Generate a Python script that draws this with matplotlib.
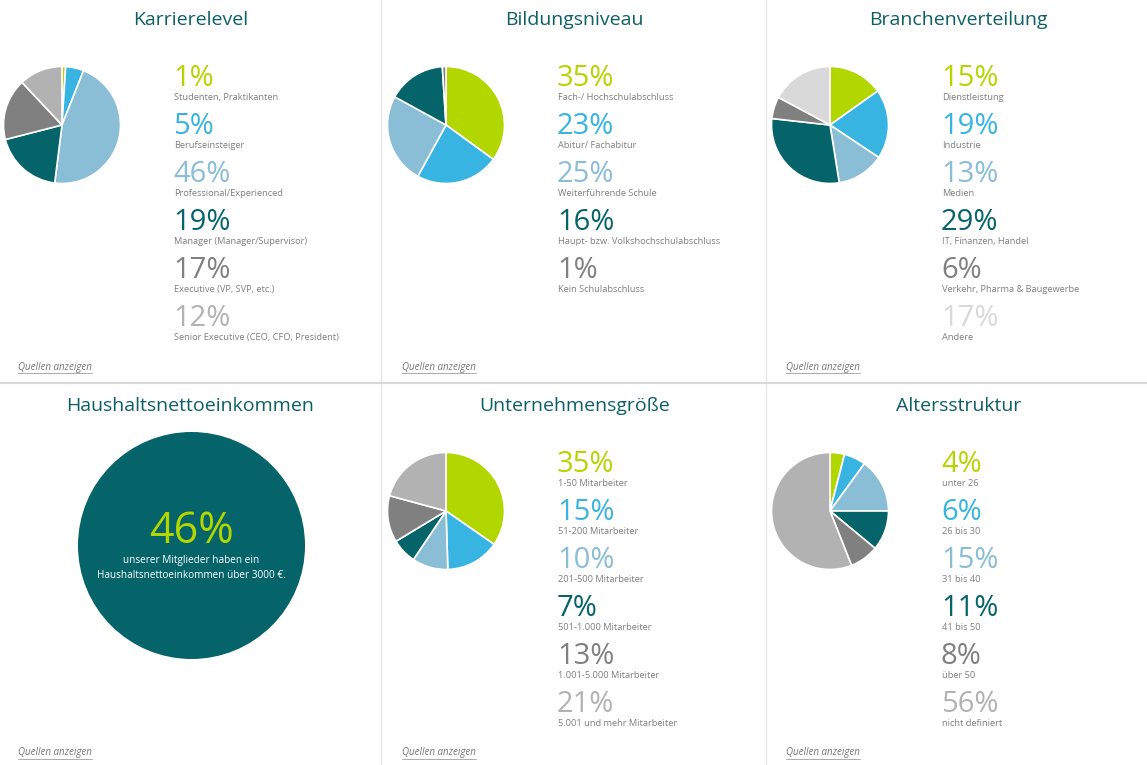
import matplotlib
matplotlib.use('Agg')
import matplotlib.pyplot as plt
from matplotlib.patches import Circle

plt.rcParams['font.family'] = ['Open Sans', 'DejaVu Sans']

W, H = 1147, 765

LIME = '#b2d600'
BLUE = '#38b4e3'
LIGHTBLUE = '#8abdd6'
TEAL = '#05646a'
GRAY = '#808080'
LIGHTGRAY = '#b2b2b2'
PALEGRAY = '#d9d9d9'
TITLE = '#0d5f66'
LABEL = '#7f7f7f'

# data
karriere_values = [1, 5, 46, 19, 17, 12]
karriere_labels = ['Studenten, Praktikanten', 'Berufseinsteiger', 'Professional/Experienced',
                   'Manager (Manager/Supervisor)', 'Executive (VP, SVP, etc.)',
                   'Senior Executive (CEO, CFO, President)']

bildung_values = [35, 23, 25, 16, 1]
bildung_labels = ['Fach-/ Hochschulabschluss', 'Abitur/ Fachabitur', 'Weiterführende Schule',
                  'Haupt- bzw. Volkshochschulabschluss', 'Kein Schulabschluss']

branchen_values = [15, 19, 13, 29, 6, 17]
branchen_labels = ['Dienstleistung', 'Industrie', 'Medien', 'IT, Finanzen, Handel',
                   'Verkehr, Pharma & Baugewerbe', 'Andere']

firma_values = [35, 15, 10, 7, 13, 21]
firma_labels = ['1-50 Mitarbeiter', '51-200 Mitarbeiter', '201-500 Mitarbeiter',
                '501-1.000 Mitarbeiter', '1.001-5.000 Mitarbeiter', '5.001 und mehr Mitarbeiter']

alter_values = [4, 6, 15, 11, 8, 56]
alter_labels = ['unter 26', '26 bis 30', '31 bis 40', '41 bis 50', 'über 50', 'nicht definiert']

einkommen_value = 46

colors = [LIME, BLUE, LIGHTBLUE, TEAL, GRAY, LIGHTGRAY]
colors_branchen = [LIME, BLUE, LIGHTBLUE, TEAL, GRAY, PALEGRAY]

fig = plt.figure(figsize=(W / 100, H / 100), dpi=100, facecolor='white')

# overlay in pixel coords for text and separators
bg = fig.add_axes([0, 0, 1, 1])
bg.set_xlim(0, W)
bg.set_ylim(H, 0)
bg.axis('off')

bg.plot([381, 381], [0, H], color='#e6e6e6', lw=1)
bg.plot([765.5, 765.5], [0, H], color='#e6e6e6', lw=1)
bg.plot([0, W], [383, 383], color='#d9d9d9', lw=1.5)


def quellen(x, y):
    t = bg.text(x, y, 'Quellen anzeigen', fontsize=7, style='italic', color='#777777',
                ha='left', va='center')
    bb = t.get_window_extent(fig.canvas.get_renderer())
    bg.plot([x, x + bb.width], [y + 5.5, y + 5.5], color='#8c8c8c', lw=0.5)


def panel(x0, y0, title, values, labels, cols):
    cx, cy, r = x0 + 62, y0 + 125, 58.5
    ax = fig.add_axes([(cx - r) / W, 1 - (cy + r) / H, 2 * r / W, 2 * r / H])
    ax.pie(values, colors=cols, startangle=90, counterclock=False, radius=1,
           wedgeprops={'edgecolor': 'white', 'linewidth': 1.2})
    ax.set_xlim(-1, 1)
    ax.set_ylim(-1, 1)
    bg.text(x0 + 190.5, y0 + 20, title, fontsize=14, color=TITLE, ha='center', va='center')
    for i, (v, lab) in enumerate(zip(values, labels)):
        y = y0 + 78 + 48 * i
        bg.text(x0 + 173, y, f'{v}%', fontsize=21, color=cols[i], ha='left', va='center')
        bg.text(x0 + 174, y + 19, lab, fontsize=6.7, color=LABEL, ha='left', va='center')
    quellen(x0 + 18, y0 + 367)


panel(0, 0, 'Karrierelevel', karriere_values, karriere_labels, colors)
panel(384, 0, 'Bildungsniveau', bildung_values, bildung_labels, colors)
panel(768, 0, 'Branchenverteilung', branchen_values, branchen_labels, colors_branchen)
panel(384, 386, 'Unternehmensgröße', firma_values, firma_labels, colors)
panel(768, 386, 'Altersstruktur', alter_values, alter_labels, colors)

# Haushaltsnettoeinkommen panel
bg.text(190.5, 406, 'Haushaltsnettoeinkommen', fontsize=14, color=TITLE, ha='center', va='center')
bg.add_patch(Circle((191.5, 545.5), 113.5, color=TEAL, lw=0))
bg.text(191, 532, f'{einkommen_value}%', fontsize=31, color=LIME, ha='center', va='center')
bg.text(191, 561, 'unserer Mitglieder haben ein', fontsize=7.2, color='white', ha='center', va='center')
bg.text(191, 576, 'Haushaltsnettoeinkommen über 3000 €.', fontsize=7.2, color='white', ha='center', va='center')
quellen(18, 753)

fig.savefig('out.png', dpi=100, facecolor='white')
